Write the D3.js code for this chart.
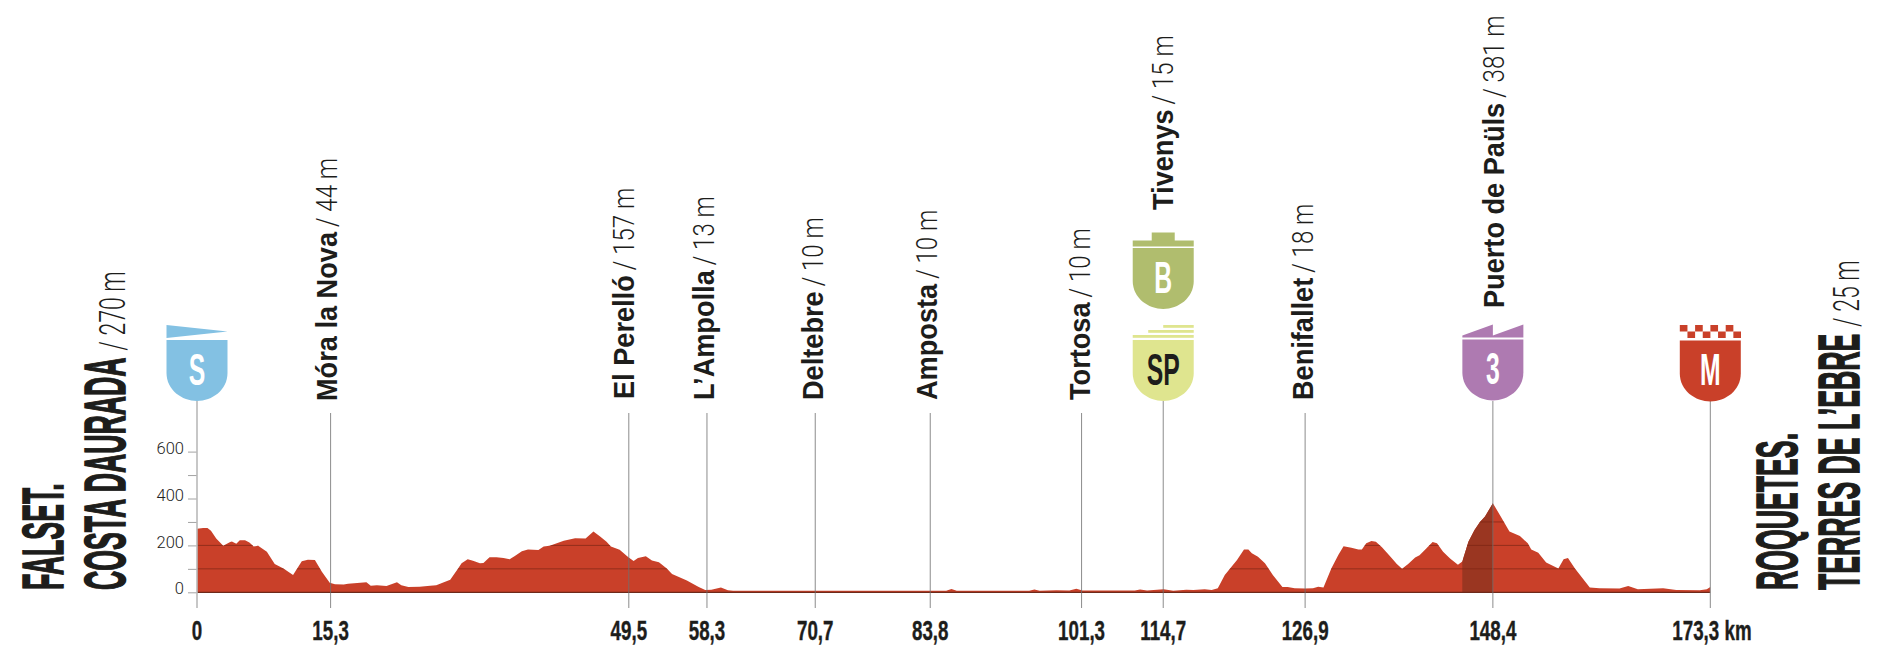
<!DOCTYPE html>
<html><head><meta charset="utf-8">
<script src="https://cdn.jsdelivr.net/npm/d3@7/dist/d3.min.js"></script>
<style>html,body{margin:0;padding:0;background:#fff}svg{display:block}</style>
</head><body><svg id="c" width="1884" height="653"></svg>
<script>
const profileKm=[0,.7,1.2,1.6,2.2,3,3.8,4,4.5,4.9,5.5,6,6.5,7,8,8.9,9.9,11,12,12.7,13.5,14.3,15.2,15.8,16.8,17.3,19.4,19.9,20.6,21.7,22.9,23.4,24.2,25.5,26.7,27.4,29,29.9,30.3,31,31.6,32.4,32.8,33.5,34.3,35.1,35.8,36.4,37.2,37.9,39.1,39.7,40.4,42,43.3,44.5,45.4,46.2,46.9,47.4,48.4,49.4,50,50.5,51.4,52.1,52.9,53.8,54.4,56.1,57.4,58.2,58.9,60,60.8,61.4,70,80,85.8,86.4,87,95.3,95.9,96.5,98.4,99.9,100.7,101.4,107.4,108,108.8,110.7,111.8,113.3,114.1,115.4,116.2,116.9,117.7,119.1,119.9,120.4,120.8,121.5,122.3,123.2,124.3,124.9,125.7,126.9,127.8,128.4,129,129.9,130.7,131.3,132.2,133,133.4,133.9,134.5,135,135.7,136.6,137.4,138,138.7,139.5,140,140.8,141.5,142,142.7,143.5,144.4,144.9,145.6,146.3,146.9,147.5,148.4,149.2,150.3,151.5,152.4,152.8,153.6,154.5,155.9,156.5,157,157.8,159.5,160.6,162.9,163.9,165,167.9,169.4,172.1,172.9,173.3];
const profileM=[271,274,274,263,229,198,215,217,207,222,222,212,195,199,173,121,102,74,132,139,138,88,41,34,33,36,43,28,30,27,43,30,23,24,28,30,53,102,124,141,135,124,125,149,149,146,141,155,175,182,180,195,198,220,230,229,259,237,216,195,181,149,134,146,154,136,128,102,78,50,24,10,11,21,9,7,7,7,7,14,7,7,12,7,9,8,15,8,8,12,8,13,7,11,10,13,10,17,74,138,183,183,166,152,124,74,23,23,17,16,17,24,21,102,159,196,190,182,183,209,219,216,192,155,121,100,121,148,158,188,215,209,173,144,117,131,216,266,299,323,380,330,259,240,209,183,169,127,101,141,146,102,21,17,16,27,13,17,10,9,13,23];
const checkpointNames=["Móra la Nova","El Perelló","L’Ampolla","Deltebre","Amposta","Tortosa","Tivenys","Benifallet","Puerto de Paüls"];
const checkpointElev=["44","157","13","10","10","10","15","18","381"];
const checkpointKm=[15.3,49.45,58.4,70.8,83.97,101.3,110.65,126.9,148.4];
const kmLabels=["0","15,3","49,5","58,3","70,7","83,8","101,3","114,7","126,9","148,4"];
const kmLabelPos=[0,15.3,49.45,58.4,70.8,83.97,101.3,110.65,126.9,148.4];
const finishKm=173.3, finishLabel="173,3 km";
const elevTicks=[0,100,200,300,400,500,600];
const elevLabels=[0,200,400,600];
const climbRange=[144.9,148.4];

const svg=d3.select("#c");
const x=d3.scaleLinear().domain([0,173.3]).range([197,1710.3]);
const y=d3.scaleLinear().domain([0,600]).range([592.3,451.6]);
const NARROW="'Liberation Sans Narrow','Liberation Sans',sans-serif";
const INK="#1d1d1b";
const data=profileKm.map((k,i)=>({k,m:profileM[i]}));
const area=d3.area().x(d=>x(d.k)).y0(y(0)).y1(d=>y(d.m));

svg.append("defs").append("clipPath").attr("id","prof").append("path").attr("d",area(data));

svg.append("path").attr("d",area(data)).attr("fill","#c94029");
svg.append("g").attr("clip-path","url(#prof)").append("rect")
 .attr("x",x(climbRange[0])).attr("width",x(climbRange[1])-x(climbRange[0]))
 .attr("y",y(600)).attr("height",y(0)-y(600)).attr("fill","#9a3621");
svg.append("g").attr("clip-path","url(#prof)").selectAll("line").data(elevTicks.filter(d=>d>0)).join("line")
 .attr("x1",x(0)).attr("x2",x(173.3)).attr("y1",d=>y(d)).attr("y2",d=>y(d))
 .attr("stroke","#7c2616").attr("stroke-width",1).attr("opacity",.7);
const axis=svg.append("g").attr("transform",`translate(${x(0)},0)`)
 .call(d3.axisLeft(y).tickValues(elevTicks).tickSize(9).tickFormat(d=>elevLabels.includes(d)?d:""));
axis.select(".domain").remove();
axis.selectAll(".tick line").attr("stroke","#8c8c8c").attr("stroke-width",.8);
axis.selectAll("text").attr("x",-13).attr("dy","0.1em").attr("font-family","Roboto,sans-serif").attr("font-weight",300)
 .attr("font-size",16.5).attr("fill","#222");
svg.append("line").attr("x1",x(0)).attr("x2",x(173.3)).attr("y1",y(0)).attr("y2",y(0)).attr("stroke","#6e2a1b").attr("stroke-width",1.2);

svg.selectAll("line.cp").data(checkpointKm).join("line").attr("class","cp")
 .attr("x1",d=>x(d)).attr("x2",d=>x(d))
 .attr("y1",(d,i)=>(i===6||i===8)?401:413).attr("y2",608)
 .attr("stroke","#6f6f6f").attr("stroke-opacity",.8).attr("stroke-width",1);
svg.append("line").attr("x1",x(0)).attr("x2",x(0)).attr("y1",401).attr("y2",608).attr("stroke","#b9b9b9").attr("stroke-width",1.6);
svg.append("line").attr("x1",x(finishKm)).attr("x2",x(finishKm)).attr("y1",401).attr("y2",608).attr("stroke","#8a8a8a").attr("stroke-width",1);

function rotLabel(bx,by,parts){
  const g=svg.append("g").attr("transform",`translate(${bx},${by}) rotate(-90)`);
  let pos=0;
  parts.forEach(p=>{
    pos+=(p.gap||0);
    const t=g.append("text").attr("font-family",p.font).attr("font-weight",p.weight).attr("font-size",p.size)
      .attr("fill",INK).attr("stroke",p.stroke?INK:"none").attr("stroke-width",p.stroke||0)
      .attr("transform",`translate(${pos},0) scale(${p.sx},1)`).text(p.text);
    pos+=t.node().getComputedTextLength()*p.sx;
  });
}
const labelBaseline=[6,5,7,8,7,8,9.5,8,11];
const labelBottom=[401,399,400,400,400,400,210,400,308];
checkpointNames.forEach((n,i)=>rotLabel(x(checkpointKm[i])+labelBaseline[i],labelBottom[i],[
 {text:n,font:"'Liberation Sans',sans-serif",weight:700,size:30,sx:.905},
 {text:"/ "+checkpointElev[i]+" m",font:"Roboto,sans-serif",weight:300,size:30,sx:.8,gap:5}
]));

const big=t=>({text:t,font:NARROW,weight:700,size:58,sx:.46,stroke:1.6});
const thin=t=>({text:t,font:"Roboto,sans-serif",weight:300,size:36,sx:.64,gap:7});
rotLabel(63,590,[big("FALSET.")]);
rotLabel(125,590,[big("COSTA DAURADA"),thin("/ 270 m")]);
rotLabel(1797,590,[big("ROQUETES.")]);
rotLabel(1859,590,[big("TERRES DE L’EBRE"),thin("/ 25 m")]);

function kmText(px,t,anchor){
  svg.append("text").attr("transform",`translate(${px},640) scale(.67,1)`).attr("text-anchor",anchor)
   .attr("font-family",NARROW).attr("font-weight",700).attr("font-size",28).attr("fill",INK)
   .attr("stroke",INK).attr("stroke-width",.4).text(t);
}
kmLabels.forEach((t,i)=>kmText(x(kmLabelPos[i]),t,"middle"));
kmText(x(finishKm)-38,finishLabel,"start");

const shieldPath="M-30.5,0V33C-30.5,50,-15,61,0,61C15,61,30.5,50,30.5,33V0Z";
function shield(km,top,color,letter,letterColor){
  const g=svg.append("g").attr("transform",`translate(${x(km)},${top})`);
  g.append("path").attr("d",shieldPath).attr("fill",color);
  g.append("text").attr("text-anchor","middle")
   .attr("transform",`translate(0,44.5) scale(.55,1)`).attr("font-family",NARROW).attr("font-weight",700)
   .attr("font-size",45).attr("fill",letterColor).text(letter);
  return g;
}
const sS=shield(0,340,"#83c1e3","S","#fff");
sS.append("path").attr("d","M-30.5,-15L30.5,-8.5L-30.5,-2Z").attr("fill","#83c1e3");
const sB=shield(110.65,248,"#b0bd6e","B","#fff");
sB.append("path").attr("d","M-30.5,-1.5V-7.5H-11.5V-15.5H11.5V-7.5H30.5V-1.5Z").attr("fill","#b0bd6e");
const sSP=shield(110.65,340,"#dfe58f","SP",INK);
[[-30.5,-5],[-15,-10],[0,-15]].forEach(([a,b])=>sSP.append("rect").attr("x",a).attr("y",b).attr("width",30.5-a).attr("height",2.8).attr("fill","#dfe58f"));
const s3=shield(148.4,339.5,"#ae7ab1","3","#fff");
s3.append("path").attr("d","M-30.5,-2V-4L0,-15V-4L30.5,-15V-2Z").attr("fill","#ae7ab1");
const sM=shield(finishKm,340.5,"#c94029","M","#fff");
d3.range(8).forEach(i=>sM.append("rect").attr("x",-30.5+i*7.65).attr("y",i%2?-9:-15.5).attr("width",7.65).attr("height",6.5).attr("fill","#c94029"));
</script></body></html>
